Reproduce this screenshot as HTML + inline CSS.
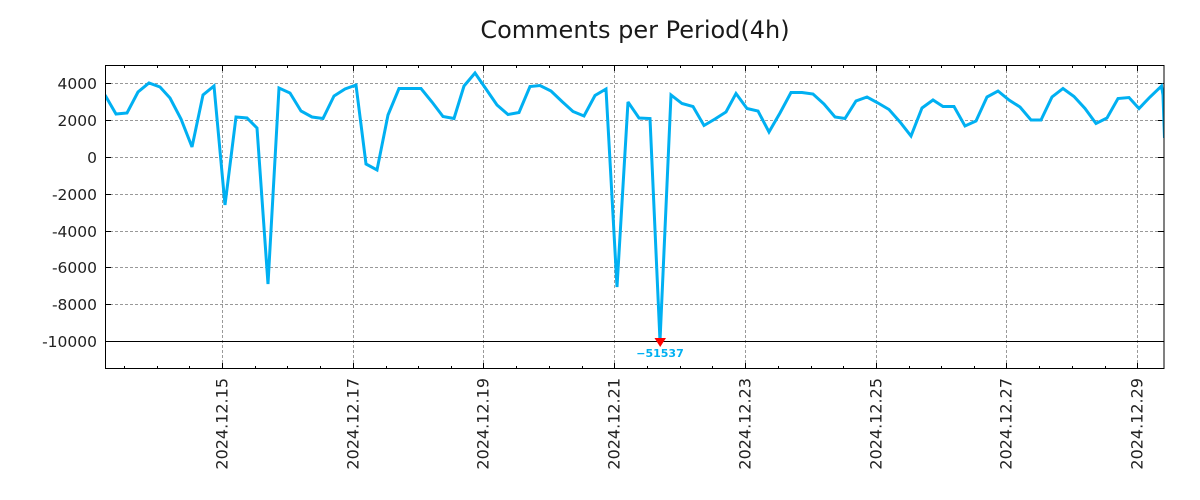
<!DOCTYPE html>
<html>
<head>
<meta charset="utf-8">
<style>
  html, body { margin: 0; padding: 0; background: #ffffff; }
  svg { display: block; }
  text { font-family: "DejaVu Sans", "Liberation Sans", sans-serif; }
</style>
</head>
<body>
<svg width="1200" height="500" viewBox="0 0 1200 500" xmlns="http://www.w3.org/2000/svg">
  <rect x="0" y="0" width="1200" height="500" fill="#ffffff"/>
  <defs>
    <clipPath id="plot">
      <rect x="105" y="65" width="1059.5" height="304"/>
    </clipPath>
  </defs>

  <!-- Title -->
  <text x="635" y="38" font-size="24" fill="#1a1a1a" text-anchor="middle">Comments per Period(4h)</text>

  <!-- Horizontal grid -->
  <g stroke="#999999" stroke-width="1" stroke-dasharray="3,2" shape-rendering="crispEdges">
    <line x1="105" y1="83.5" x2="1164" y2="83.5"/>
    <line x1="105" y1="120.5" x2="1164" y2="120.5"/>
    <line x1="105" y1="157.5" x2="1164" y2="157.5"/>
    <line x1="105" y1="194.5" x2="1164" y2="194.5"/>
    <line x1="105" y1="231.5" x2="1164" y2="231.5"/>
    <line x1="105" y1="267.5" x2="1164" y2="267.5"/>
    <line x1="105" y1="304.5" x2="1164" y2="304.5"/>
    <!-- Vertical grid -->
    <line x1="222.5" y1="65" x2="222.5" y2="369"/>
    <line x1="353.5" y1="65" x2="353.5" y2="369"/>
    <line x1="483.5" y1="65" x2="483.5" y2="369"/>
    <line x1="614.5" y1="65" x2="614.5" y2="369"/>
    <line x1="745.5" y1="65" x2="745.5" y2="369"/>
    <line x1="876.5" y1="65" x2="876.5" y2="369"/>
    <line x1="1006.5" y1="65" x2="1006.5" y2="369"/>
    <line x1="1137.5" y1="65" x2="1137.5" y2="369"/>
  </g>

  <!-- -10000 solid line -->
  <line x1="105" y1="341.5" x2="1164" y2="341.5" stroke="#000" stroke-width="1" shape-rendering="crispEdges"/>

  <!-- Ticks -->
  <g stroke="#000" stroke-width="1" shape-rendering="crispEdges">
    <line x1="105" y1="83.5" x2="111" y2="83.5"/><line x1="1158" y1="83.5" x2="1164" y2="83.5"/>
    <line x1="105" y1="120.5" x2="111" y2="120.5"/><line x1="1158" y1="120.5" x2="1164" y2="120.5"/>
    <line x1="105" y1="157.5" x2="111" y2="157.5"/><line x1="1158" y1="157.5" x2="1164" y2="157.5"/>
    <line x1="105" y1="194.5" x2="111" y2="194.5"/><line x1="1158" y1="194.5" x2="1164" y2="194.5"/>
    <line x1="105" y1="231.5" x2="111" y2="231.5"/><line x1="1158" y1="231.5" x2="1164" y2="231.5"/>
    <line x1="105" y1="267.5" x2="111" y2="267.5"/><line x1="1158" y1="267.5" x2="1164" y2="267.5"/>
    <line x1="105" y1="304.5" x2="111" y2="304.5"/><line x1="1158" y1="304.5" x2="1164" y2="304.5"/>
    <line x1="222.5" y1="369" x2="222.5" y2="363"/><line x1="222.5" y1="65" x2="222.5" y2="71"/>
    <line x1="353.5" y1="369" x2="353.5" y2="363"/><line x1="353.5" y1="65" x2="353.5" y2="71"/>
    <line x1="483.5" y1="369" x2="483.5" y2="363"/><line x1="483.5" y1="65" x2="483.5" y2="71"/>
    <line x1="614.5" y1="369" x2="614.5" y2="363"/><line x1="614.5" y1="65" x2="614.5" y2="71"/>
    <line x1="745.5" y1="369" x2="745.5" y2="363"/><line x1="745.5" y1="65" x2="745.5" y2="71"/>
    <line x1="876.5" y1="369" x2="876.5" y2="363"/><line x1="876.5" y1="65" x2="876.5" y2="71"/>
    <line x1="1006.5" y1="369" x2="1006.5" y2="363"/><line x1="1006.5" y1="65" x2="1006.5" y2="71"/>
    <line x1="1137.5" y1="369" x2="1137.5" y2="363"/><line x1="1137.5" y1="65" x2="1137.5" y2="71"/>
    <g>
      <line x1="124.5" y1="369" x2="124.5" y2="366"/><line x1="124.5" y1="65" x2="124.5" y2="68"/>
      <line x1="157.5" y1="369" x2="157.5" y2="366"/><line x1="157.5" y1="65" x2="157.5" y2="68"/>
      <line x1="189.5" y1="369" x2="189.5" y2="366"/><line x1="189.5" y1="65" x2="189.5" y2="68"/>
      <line x1="255.5" y1="369" x2="255.5" y2="366"/><line x1="255.5" y1="65" x2="255.5" y2="68"/>
      <line x1="287.5" y1="369" x2="287.5" y2="366"/><line x1="287.5" y1="65" x2="287.5" y2="68"/>
      <line x1="320.5" y1="369" x2="320.5" y2="366"/><line x1="320.5" y1="65" x2="320.5" y2="68"/>
      <line x1="386.5" y1="369" x2="386.5" y2="366"/><line x1="386.5" y1="65" x2="386.5" y2="68"/>
      <line x1="418.5" y1="369" x2="418.5" y2="366"/><line x1="418.5" y1="65" x2="418.5" y2="68"/>
      <line x1="451.5" y1="369" x2="451.5" y2="366"/><line x1="451.5" y1="65" x2="451.5" y2="68"/>
      <line x1="516.5" y1="369" x2="516.5" y2="366"/><line x1="516.5" y1="65" x2="516.5" y2="68"/>
      <line x1="549.5" y1="369" x2="549.5" y2="366"/><line x1="549.5" y1="65" x2="549.5" y2="68"/>
      <line x1="582.5" y1="369" x2="582.5" y2="366"/><line x1="582.5" y1="65" x2="582.5" y2="68"/>
      <line x1="647.5" y1="369" x2="647.5" y2="366"/><line x1="647.5" y1="65" x2="647.5" y2="68"/>
      <line x1="680.5" y1="369" x2="680.5" y2="366"/><line x1="680.5" y1="65" x2="680.5" y2="68"/>
      <line x1="712.5" y1="369" x2="712.5" y2="366"/><line x1="712.5" y1="65" x2="712.5" y2="68"/>
      <line x1="778.5" y1="369" x2="778.5" y2="366"/><line x1="778.5" y1="65" x2="778.5" y2="68"/>
      <line x1="811.5" y1="369" x2="811.5" y2="366"/><line x1="811.5" y1="65" x2="811.5" y2="68"/>
      <line x1="843.5" y1="369" x2="843.5" y2="366"/><line x1="843.5" y1="65" x2="843.5" y2="68"/>
      <line x1="909.5" y1="369" x2="909.5" y2="366"/><line x1="909.5" y1="65" x2="909.5" y2="68"/>
      <line x1="941.5" y1="369" x2="941.5" y2="366"/><line x1="941.5" y1="65" x2="941.5" y2="68"/>
      <line x1="974.5" y1="369" x2="974.5" y2="366"/><line x1="974.5" y1="65" x2="974.5" y2="68"/>
      <line x1="1039.5" y1="369" x2="1039.5" y2="366"/><line x1="1039.5" y1="65" x2="1039.5" y2="68"/>
      <line x1="1072.5" y1="369" x2="1072.5" y2="366"/><line x1="1072.5" y1="65" x2="1072.5" y2="68"/>
      <line x1="1105.5" y1="369" x2="1105.5" y2="366"/><line x1="1105.5" y1="65" x2="1105.5" y2="68"/>
    </g>
  </g>

  <!-- Data line -->
  <g clip-path="url(#plot)">
    <polyline fill="none" stroke="#00b0f2" stroke-width="3" stroke-linejoin="miter" stroke-miterlimit="3"
      points="105,95 116,114 127,113 138,92 149,83 160,87 170,98 181,119 192,147 203,95 214,86 225,205 236,117 247,118 257,128 268,284 279,88 290,93 301,111 312,117 323,118.5 334,96 345,89 356,85 366,164 377,170 388,115 399,88.5 410,88.5 421,88.5 432,102 443,116.5 454,118.5 464,86 475,73 486,89 497,105 508,114.5 519,112.5 530,86.5 540,85.5 551,91 562,101.5 573,111.5 584,116 595,95.5 606,89 617,287 628,102 639,118 650,118.5 660,341 671,95 682,103.5 693,106.5 704,125.5 715,119 726,112 736,93.5 747,108.5 758,111 769,132 780,113 791,92.5 802,92.5 813,94 824,104 835,117 845,118.5 856,101 867,97 878,103 889,109.5 900,122 911,136 922,108 933,100 943,106.5 954,106.5 965,126 976,121 987,97 998,91 1009,100 1020,107 1031,120 1041,120 1052,97 1063,88.5 1074,96.5 1085,108.5 1096,123.5 1107,118 1118,98.5 1129,97.5 1139,108.5 1150,97 1161.5,86 1163,95 1164.5,138"/>
  </g>

  <!-- Border -->
  <rect x="105.5" y="65.5" width="1058.5" height="303" fill="none" stroke="#000" stroke-width="1" shape-rendering="crispEdges"/>

  <!-- Outlier marker -->
  <polygon points="654.5,338 666,338 660.2,347" fill="#ff0000"/>
  <text x="660" y="357" font-size="11" font-weight="bold" fill="#00b0f2" text-anchor="middle">−51537</text>

  <!-- Y tick labels -->
  <g font-size="15.5" fill="#222" text-anchor="end">
    <text x="97" y="89">4000</text>
    <text x="97" y="126">2000</text>
    <text x="97" y="163">0</text>
    <text x="97" y="200">-2000</text>
    <text x="97" y="237">-4000</text>
    <text x="97" y="273">-6000</text>
    <text x="97" y="310">-8000</text>
    <text x="97" y="347">-10000</text>
  </g>

  <!-- X tick labels (rotated) -->
  <g font-size="16" fill="#222" text-anchor="end">
    <text transform="translate(227.5,378) rotate(-90)">2024.12.15</text>
    <text transform="translate(358.5,378) rotate(-90)">2024.12.17</text>
    <text transform="translate(488.5,378) rotate(-90)">2024.12.19</text>
    <text transform="translate(619.5,378) rotate(-90)">2024.12.21</text>
    <text transform="translate(750.5,378) rotate(-90)">2024.12.23</text>
    <text transform="translate(881.5,378) rotate(-90)">2024.12.25</text>
    <text transform="translate(1011.5,378) rotate(-90)">2024.12.27</text>
    <text transform="translate(1142.5,378) rotate(-90)">2024.12.29</text>
  </g>
</svg>
</body>
</html>
